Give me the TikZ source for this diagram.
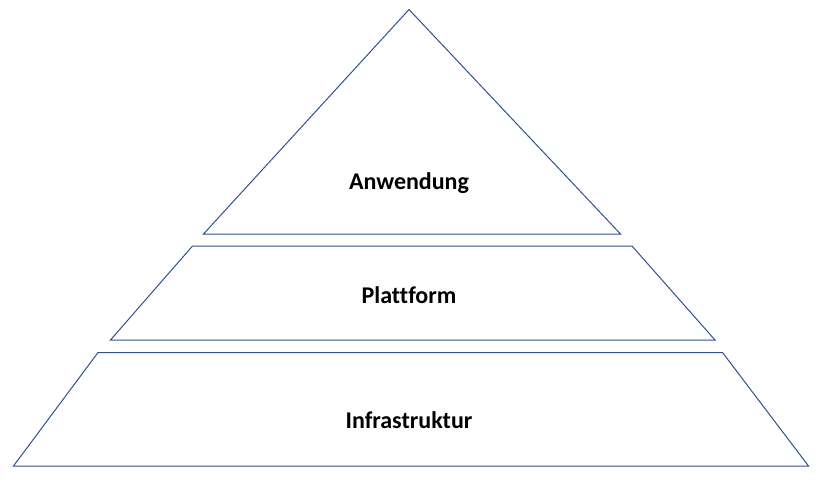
\documentclass[tikz,border=0pt]{standalone}
\usepackage{fontspec}
\setmainfont[Ligatures=NoCommon]{Carlito}
\usepackage{xcolor}
\usepackage{tikz}
\usetikzlibrary{positioning}
\definecolor{layerblue}{HTML}{2F528F}

\begin{document}
\begin{tikzpicture}[x=1pt, y=-1pt,
    layer/.style={draw=layerblue, line width=1pt, line join=miter},
    layerlabel/.style={font=\fontsize{24}{28}\selectfont\bfseries, text=black}]
  \useasboundingbox (0,0) rectangle (822,488);

  % Top: application triangle
  \draw[layer] (409,9.5) -- (620.5,234) -- (203.5,234) -- cycle;
  \node[layerlabel] (app) at (409,183) {Anwendung};

  % Middle: platform trapezoid
  \draw[layer] (192.5,246) -- (632,246) -- (715,340) -- (110.5,340) -- cycle;
  \node[layerlabel] (plat) at (409,295) {Plattform};

  % Bottom: infrastructure trapezoid
  \draw[layer] (98,352.5) -- (722.5,352.5) -- (808.5,466) -- (13.5,466) -- cycle;
  \node[layerlabel] (infra) at (409,420) {Infrastruktur};
\end{tikzpicture}
\end{document}
